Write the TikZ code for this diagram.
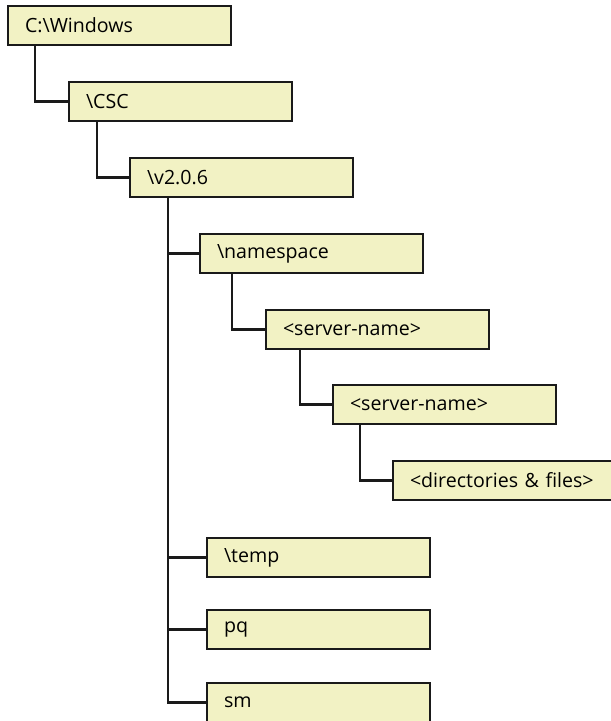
\documentclass[tikz,border=0pt]{standalone}
\usepackage{fontspec}
\setmainfont{Open Sans}
\usetikzlibrary{calc}
\definecolor{folderfill}{HTML}{F2F2C4}
\definecolor{ink}{HTML}{1A1A1A}

\begin{document}
\begin{tikzpicture}[x=1pt,y=-1pt,
    folder/.style={draw=ink,line width=2pt,fill=folderfill,anchor=north west,
      minimum width=223pt,minimum height=39pt,inner xsep=17pt,text width=189pt,
      align=left,font=\fontsize{19.6}{23}\selectfont},
    branch/.style={draw=ink,line width=2.7pt}]
  \useasboundingbox (0,0) rectangle (611,721);
  % folder boxes
  \node[folder] (win) at (7,5) {C:\textbackslash Windows};
  \node[folder] (csc) at (68,81) {\textbackslash CSC};
  \node[folder] (ver) at (129,157) {\textbackslash v2.0.6};
  \node[folder] (ns) at (199,233) {\textbackslash namespace};
  \node[folder] (srvA) at (265,309) {<server-name>};
  \node[folder] (srvB) at (332,384) {<server-name>};
  \node[folder] (dirs) at (392,460) {<directories \& files>};
  \node[folder] (temp) at (206,537) {\textbackslash temp};
  \node[folder] (pq) at (206,609) {pq};
  \node[folder] (sm) at (206,682) {sm};
  % tree lines
  \draw[branch] ($(win.south west)+(28,0)$) |- (csc.west);
  \draw[branch] ($(csc.south west)+(29,0)$) |- (ver.west);
  \coordinate (trunk) at ($(ver.south west)+(39,0)$);
  \foreach \leaf in {ns,temp,pq,sm}
    \draw[branch] (trunk) |- (\leaf.west);
  \draw[branch] ($(ns.south west)+(33,0)$) |- (srvA.west);
  \draw[branch] ($(srvA.south west)+(35,0)$) |- (srvB.west);
  \draw[branch] ($(srvB.south west)+(28,0)$) |- (dirs.west);
\end{tikzpicture}
\end{document}
